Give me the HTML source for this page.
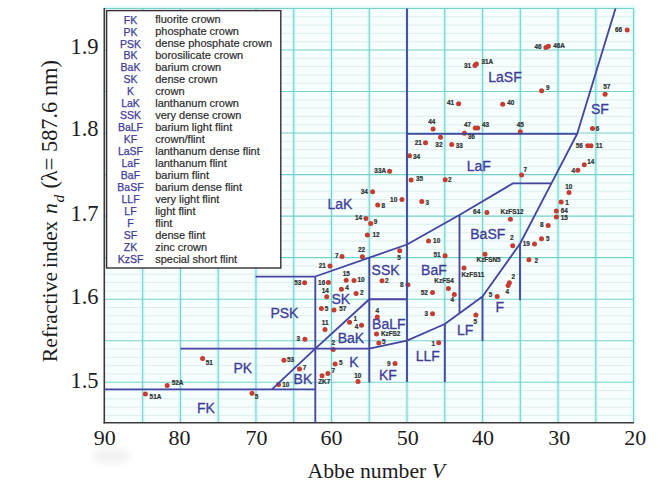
<!DOCTYPE html>
<html lang="en">
<head>
<meta charset="utf-8">
<title>Abbe diagram</title>
<style>
html,body{margin:0;padding:0;background:#fff;}
body{width:667px;height:490px;overflow:hidden;}
svg{display:block;}
</style>
</head>
<body>
<svg width="667" height="490" viewBox="0 0 667 490">
<rect x="0" y="0" width="667" height="490" fill="#ffffff"/>
<rect x="104.5" y="8.4" width="529.00" height="414.40" fill="#f7fefe"/>
<g stroke="#d9f9f7" stroke-width="3.8">
<line x1="142.66" x2="142.66" y1="8.4" y2="422.8"/>
<line x1="180.43" x2="180.43" y1="8.4" y2="422.8"/>
<line x1="218.19" x2="218.19" y1="8.4" y2="422.8"/>
<line x1="255.96" x2="255.96" y1="8.4" y2="422.8"/>
<line x1="293.72" x2="293.72" y1="8.4" y2="422.8"/>
<line x1="331.49" x2="331.49" y1="8.4" y2="422.8"/>
<line x1="369.25" x2="369.25" y1="8.4" y2="422.8"/>
<line x1="407.01" x2="407.01" y1="8.4" y2="422.8"/>
<line x1="444.78" x2="444.78" y1="8.4" y2="422.8"/>
<line x1="482.54" x2="482.54" y1="8.4" y2="422.8"/>
<line x1="520.31" x2="520.31" y1="8.4" y2="422.8"/>
<line x1="558.07" x2="558.07" y1="8.4" y2="422.8"/>
<line x1="595.84" x2="595.84" y1="8.4" y2="422.8"/>
<line x1="633.60" x2="633.60" y1="8.4" y2="422.8"/>
</g>
<g stroke="#d9edec" stroke-width="0.9">
<line x1="104.5" x2="633.5" y1="16.78" y2="16.78"/>
<line x1="104.5" x2="633.5" y1="25.08" y2="25.08"/>
<line x1="104.5" x2="633.5" y1="33.39" y2="33.39"/>
<line x1="104.5" x2="633.5" y1="41.69" y2="41.69"/>
<line x1="104.5" x2="633.5" y1="58.31" y2="58.31"/>
<line x1="104.5" x2="633.5" y1="66.61" y2="66.61"/>
<line x1="104.5" x2="633.5" y1="74.92" y2="74.92"/>
<line x1="104.5" x2="633.5" y1="83.22" y2="83.22"/>
<line x1="104.5" x2="633.5" y1="99.84" y2="99.84"/>
<line x1="104.5" x2="633.5" y1="108.14" y2="108.14"/>
<line x1="104.5" x2="633.5" y1="116.45" y2="116.45"/>
<line x1="104.5" x2="633.5" y1="124.75" y2="124.75"/>
<line x1="104.5" x2="633.5" y1="141.37" y2="141.37"/>
<line x1="104.5" x2="633.5" y1="149.67" y2="149.67"/>
<line x1="104.5" x2="633.5" y1="157.98" y2="157.98"/>
<line x1="104.5" x2="633.5" y1="166.28" y2="166.28"/>
<line x1="104.5" x2="633.5" y1="182.90" y2="182.90"/>
<line x1="104.5" x2="633.5" y1="191.20" y2="191.20"/>
<line x1="104.5" x2="633.5" y1="199.51" y2="199.51"/>
<line x1="104.5" x2="633.5" y1="207.81" y2="207.81"/>
<line x1="104.5" x2="633.5" y1="224.43" y2="224.43"/>
<line x1="104.5" x2="633.5" y1="232.73" y2="232.73"/>
<line x1="104.5" x2="633.5" y1="241.04" y2="241.04"/>
<line x1="104.5" x2="633.5" y1="249.34" y2="249.34"/>
<line x1="104.5" x2="633.5" y1="265.96" y2="265.96"/>
<line x1="104.5" x2="633.5" y1="274.26" y2="274.26"/>
<line x1="104.5" x2="633.5" y1="282.57" y2="282.57"/>
<line x1="104.5" x2="633.5" y1="290.87" y2="290.87"/>
<line x1="104.5" x2="633.5" y1="307.49" y2="307.49"/>
<line x1="104.5" x2="633.5" y1="315.79" y2="315.79"/>
<line x1="104.5" x2="633.5" y1="324.10" y2="324.10"/>
<line x1="104.5" x2="633.5" y1="332.40" y2="332.40"/>
<line x1="104.5" x2="633.5" y1="349.02" y2="349.02"/>
<line x1="104.5" x2="633.5" y1="357.32" y2="357.32"/>
<line x1="104.5" x2="633.5" y1="365.63" y2="365.63"/>
<line x1="104.5" x2="633.5" y1="373.93" y2="373.93"/>
<line x1="104.5" x2="633.5" y1="390.55" y2="390.55"/>
<line x1="104.5" x2="633.5" y1="398.85" y2="398.85"/>
<line x1="104.5" x2="633.5" y1="407.16" y2="407.16"/>
<line x1="104.5" x2="633.5" y1="415.46" y2="415.46"/>
</g>
<line x1="104.5" x2="635.5" y1="7.4" y2="7.4" stroke="#d2f8f6" stroke-width="3.4" stroke-opacity="0.65"/>
<g stroke="#76d0cb" stroke-width="1.1">
<line x1="104.5" x2="633.5" y1="8.47" y2="8.47"/>
<line x1="104.5" x2="633.5" y1="50.00" y2="50.00"/>
<line x1="104.5" x2="633.5" y1="91.53" y2="91.53"/>
<line x1="104.5" x2="633.5" y1="133.06" y2="133.06"/>
<line x1="104.5" x2="633.5" y1="174.59" y2="174.59"/>
<line x1="104.5" x2="633.5" y1="216.12" y2="216.12"/>
<line x1="104.5" x2="633.5" y1="257.65" y2="257.65"/>
<line x1="104.5" x2="633.5" y1="299.18" y2="299.18"/>
<line x1="104.5" x2="633.5" y1="340.71" y2="340.71"/>
<line x1="104.5" x2="633.5" y1="382.24" y2="382.24"/>
</g>
<g stroke="#74d2cd" stroke-width="1.05">
<line x1="142.66" x2="142.66" y1="8.4" y2="422.8"/>
<line x1="180.43" x2="180.43" y1="8.4" y2="422.8"/>
<line x1="218.19" x2="218.19" y1="8.4" y2="422.8"/>
<line x1="255.96" x2="255.96" y1="8.4" y2="422.8"/>
<line x1="293.72" x2="293.72" y1="8.4" y2="422.8"/>
<line x1="331.49" x2="331.49" y1="8.4" y2="422.8"/>
<line x1="369.25" x2="369.25" y1="8.4" y2="422.8"/>
<line x1="407.01" x2="407.01" y1="8.4" y2="422.8"/>
<line x1="444.78" x2="444.78" y1="8.4" y2="422.8"/>
<line x1="482.54" x2="482.54" y1="8.4" y2="422.8"/>
<line x1="520.31" x2="520.31" y1="8.4" y2="422.8"/>
<line x1="558.07" x2="558.07" y1="8.4" y2="422.8"/>
<line x1="595.84" x2="595.84" y1="8.4" y2="422.8"/>
<line x1="633.60" x2="633.60" y1="8.4" y2="422.8"/>
</g>
<line x1="104.3" x2="104.3" y1="8" y2="423.4" stroke="#3a3a3a" stroke-width="1.6"/>
<line x1="103.5" x2="634" y1="422.8" y2="422.8" stroke="#3a3a3a" stroke-width="1.5"/>
<rect x="106.6" y="10.6" width="174.2" height="257.4" fill="#ffffff" stroke="#303030" stroke-width="1.4"/>
<g font-family="'Liberation Sans', sans-serif">
<text x="130.5" y="23.5" text-anchor="middle" font-size="10.5" fill="#3e3c98" stroke="#3e3c98" stroke-width="0.25">FK</text>
<text x="155.2" y="23.0" font-size="11" fill="#2c2c2c" stroke="#2c2c2c" stroke-width="0.2">fluorite crown</text>
<text x="130.5" y="35.5" text-anchor="middle" font-size="10.5" fill="#3e3c98" stroke="#3e3c98" stroke-width="0.25">PK</text>
<text x="155.2" y="35.0" font-size="11" fill="#2c2c2c" stroke="#2c2c2c" stroke-width="0.2">phosphate crown</text>
<text x="130.5" y="47.5" text-anchor="middle" font-size="10.5" fill="#3e3c98" stroke="#3e3c98" stroke-width="0.25">PSK</text>
<text x="155.2" y="47.0" font-size="11" fill="#2c2c2c" stroke="#2c2c2c" stroke-width="0.2">dense phosphate crown</text>
<text x="130.5" y="59.4" text-anchor="middle" font-size="10.5" fill="#3e3c98" stroke="#3e3c98" stroke-width="0.25">BK</text>
<text x="155.2" y="58.9" font-size="11" fill="#2c2c2c" stroke="#2c2c2c" stroke-width="0.2">borosilicate crown</text>
<text x="130.5" y="71.4" text-anchor="middle" font-size="10.5" fill="#3e3c98" stroke="#3e3c98" stroke-width="0.25">BaK</text>
<text x="155.2" y="70.9" font-size="11" fill="#2c2c2c" stroke="#2c2c2c" stroke-width="0.2">barium crown</text>
<text x="130.5" y="83.4" text-anchor="middle" font-size="10.5" fill="#3e3c98" stroke="#3e3c98" stroke-width="0.25">SK</text>
<text x="155.2" y="82.9" font-size="11" fill="#2c2c2c" stroke="#2c2c2c" stroke-width="0.2">dense crown</text>
<text x="130.5" y="95.4" text-anchor="middle" font-size="10.5" fill="#3e3c98" stroke="#3e3c98" stroke-width="0.25">K</text>
<text x="155.2" y="94.9" font-size="11" fill="#2c2c2c" stroke="#2c2c2c" stroke-width="0.2">crown</text>
<text x="130.5" y="107.4" text-anchor="middle" font-size="10.5" fill="#3e3c98" stroke="#3e3c98" stroke-width="0.25">LaK</text>
<text x="155.2" y="106.9" font-size="11" fill="#2c2c2c" stroke="#2c2c2c" stroke-width="0.2">lanthanum crown</text>
<text x="130.5" y="119.3" text-anchor="middle" font-size="10.5" fill="#3e3c98" stroke="#3e3c98" stroke-width="0.25">SSK</text>
<text x="155.2" y="118.8" font-size="11" fill="#2c2c2c" stroke="#2c2c2c" stroke-width="0.2">very dense crown</text>
<text x="130.5" y="131.3" text-anchor="middle" font-size="10.5" fill="#3e3c98" stroke="#3e3c98" stroke-width="0.25">BaLF</text>
<text x="155.2" y="130.8" font-size="11" fill="#2c2c2c" stroke="#2c2c2c" stroke-width="0.2">barium light flint</text>
<text x="130.5" y="143.3" text-anchor="middle" font-size="10.5" fill="#3e3c98" stroke="#3e3c98" stroke-width="0.25">KF</text>
<text x="155.2" y="142.8" font-size="11" fill="#2c2c2c" stroke="#2c2c2c" stroke-width="0.2">crown/flint</text>
<text x="130.5" y="155.3" text-anchor="middle" font-size="10.5" fill="#3e3c98" stroke="#3e3c98" stroke-width="0.25">LaSF</text>
<text x="155.2" y="154.8" font-size="11" fill="#2c2c2c" stroke="#2c2c2c" stroke-width="0.2">lanthanum dense flint</text>
<text x="130.5" y="167.3" text-anchor="middle" font-size="10.5" fill="#3e3c98" stroke="#3e3c98" stroke-width="0.25">LaF</text>
<text x="155.2" y="166.8" font-size="11" fill="#2c2c2c" stroke="#2c2c2c" stroke-width="0.2">lanthanum flint</text>
<text x="130.5" y="179.2" text-anchor="middle" font-size="10.5" fill="#3e3c98" stroke="#3e3c98" stroke-width="0.25">BaF</text>
<text x="155.2" y="178.7" font-size="11" fill="#2c2c2c" stroke="#2c2c2c" stroke-width="0.2">barium flint</text>
<text x="130.5" y="191.2" text-anchor="middle" font-size="10.5" fill="#3e3c98" stroke="#3e3c98" stroke-width="0.25">BaSF</text>
<text x="155.2" y="190.7" font-size="11" fill="#2c2c2c" stroke="#2c2c2c" stroke-width="0.2">barium dense flint</text>
<text x="130.5" y="203.2" text-anchor="middle" font-size="10.5" fill="#3e3c98" stroke="#3e3c98" stroke-width="0.25">LLF</text>
<text x="155.2" y="202.7" font-size="11" fill="#2c2c2c" stroke="#2c2c2c" stroke-width="0.2">very light flint</text>
<text x="130.5" y="215.2" text-anchor="middle" font-size="10.5" fill="#3e3c98" stroke="#3e3c98" stroke-width="0.25">LF</text>
<text x="155.2" y="214.7" font-size="11" fill="#2c2c2c" stroke="#2c2c2c" stroke-width="0.2">light flint</text>
<text x="130.5" y="227.2" text-anchor="middle" font-size="10.5" fill="#3e3c98" stroke="#3e3c98" stroke-width="0.25">F</text>
<text x="155.2" y="226.7" font-size="11" fill="#2c2c2c" stroke="#2c2c2c" stroke-width="0.2">flint</text>
<text x="130.5" y="239.1" text-anchor="middle" font-size="10.5" fill="#3e3c98" stroke="#3e3c98" stroke-width="0.25">SF</text>
<text x="155.2" y="238.6" font-size="11" fill="#2c2c2c" stroke="#2c2c2c" stroke-width="0.2">dense flint</text>
<text x="130.5" y="251.1" text-anchor="middle" font-size="10.5" fill="#3e3c98" stroke="#3e3c98" stroke-width="0.25">ZK</text>
<text x="155.2" y="250.6" font-size="11" fill="#2c2c2c" stroke="#2c2c2c" stroke-width="0.2">zinc crown</text>
<text x="130.5" y="263.1" text-anchor="middle" font-size="10.5" fill="#3e3c98" stroke="#3e3c98" stroke-width="0.25">KzSF</text>
<text x="155.2" y="262.6" font-size="11" fill="#2c2c2c" stroke="#2c2c2c" stroke-width="0.2">special short flint</text>
</g>
<g font-family="'Liberation Sans', sans-serif" font-size="14" fill="#3e3c98" stroke="#3e3c98" stroke-width="0.3" text-anchor="middle">
<text x="505.0" y="82">LaSF</text>
<text x="599.9" y="114.4">SF</text>
<text x="478.8" y="170.6">LaF</text>
<text x="339.9" y="208.9">LaK</text>
<text x="487.8" y="239.2">BaSF</text>
<text x="385.6" y="274.5">SSK</text>
<text x="433.9" y="274.5">BaF</text>
<text x="340.8" y="304.4">SK</text>
<text x="284.4" y="317.8">PSK</text>
<text x="388.8" y="328.7">BaLF</text>
<text x="350.9" y="343.4">BaK</text>
<text x="499.7" y="311.8">F</text>
<text x="465.1" y="335.4">LF</text>
<text x="427.8" y="360.6">LLF</text>
<text x="353.9" y="367.3">K</text>
<text x="387.9" y="379.9">KF</text>
<text x="242.8" y="373">PK</text>
<text x="302.9" y="384.1">BK</text>
<text x="206.0" y="412.5">FK</text>
</g>
<g fill="#c53c30">
<circle cx="627.2" cy="30.1" r="2.5"/>
<circle cx="545.9" cy="47.5" r="2.5"/>
<circle cx="548.4" cy="46.3" r="2.5"/>
<circle cx="474.9" cy="65.4" r="2.5"/>
<circle cx="476.4" cy="63.9" r="2.5"/>
<circle cx="541.6" cy="90.8" r="2.5"/>
<circle cx="605.1" cy="94.2" r="2.5"/>
<circle cx="458.6" cy="103.7" r="2.5"/>
<circle cx="502.7" cy="104.2" r="2.5"/>
<circle cx="433.1" cy="129" r="2.5"/>
<circle cx="475.2" cy="127.9" r="2.5"/>
<circle cx="477.7" cy="127.9" r="2.5"/>
<circle cx="520.3" cy="131.7" r="2.5"/>
<circle cx="464.4" cy="133.2" r="2.5"/>
<circle cx="592.5" cy="128.5" r="2.5"/>
<circle cx="440.5" cy="137.2" r="2.5"/>
<circle cx="425.5" cy="142.8" r="2.5"/>
<circle cx="451.7" cy="144.5" r="2.5"/>
<circle cx="409.5" cy="155.8" r="2.5"/>
<circle cx="587.7" cy="145.7" r="2.5"/>
<circle cx="591" cy="145.7" r="2.5"/>
<circle cx="584.3" cy="164.7" r="2.5"/>
<circle cx="577.8" cy="170.3" r="2.5"/>
<circle cx="521.6" cy="175" r="2.5"/>
<circle cx="411.1" cy="180.1" r="2.5"/>
<circle cx="445.2" cy="179.7" r="2.5"/>
<circle cx="389.6" cy="171.2" r="2.5"/>
<circle cx="569" cy="192.6" r="2.5"/>
<circle cx="561.1" cy="201.9" r="2.5"/>
<circle cx="556.3" cy="211" r="2.5"/>
<circle cx="556.4" cy="216.9" r="2.5"/>
<circle cx="548.2" cy="225.5" r="2.5"/>
<circle cx="541.5" cy="238.7" r="2.5"/>
<circle cx="534.5" cy="244" r="2.5"/>
<circle cx="528.9" cy="259.7" r="2.5"/>
<circle cx="372.6" cy="191.8" r="2.5"/>
<circle cx="402" cy="199.4" r="2.5"/>
<circle cx="421.8" cy="201.6" r="2.5"/>
<circle cx="377.7" cy="205.1" r="2.5"/>
<circle cx="365.9" cy="218.5" r="2.5"/>
<circle cx="370.7" cy="223.6" r="2.5"/>
<circle cx="367.4" cy="234.9" r="2.5"/>
<circle cx="362.4" cy="256.7" r="2.5"/>
<circle cx="342" cy="256.4" r="2.5"/>
<circle cx="330" cy="265.9" r="2.5"/>
<circle cx="486.9" cy="212.5" r="2.5"/>
<circle cx="510.4" cy="219.2" r="2.5"/>
<circle cx="512.7" cy="245.7" r="2.5"/>
<circle cx="485" cy="254.3" r="2.5"/>
<circle cx="428.5" cy="241.1" r="2.5"/>
<circle cx="445.1" cy="255.8" r="2.5"/>
<circle cx="464" cy="268" r="2.5"/>
<circle cx="448.4" cy="288.6" r="2.5"/>
<circle cx="454.3" cy="294.5" r="2.5"/>
<circle cx="432.5" cy="292.4" r="2.5"/>
<circle cx="432.5" cy="313.8" r="2.5"/>
<circle cx="407.9" cy="284.8" r="2.5"/>
<circle cx="399.7" cy="250.8" r="2.5"/>
<circle cx="382" cy="280.8" r="2.5"/>
<circle cx="346.2" cy="280.2" r="2.5"/>
<circle cx="354" cy="280.4" r="2.5"/>
<circle cx="328.4" cy="282.5" r="2.5"/>
<circle cx="341.4" cy="289.2" r="2.5"/>
<circle cx="356.1" cy="293.4" r="2.5"/>
<circle cx="326.7" cy="296.8" r="2.5"/>
<circle cx="321.4" cy="308.6" r="2.5"/>
<circle cx="334" cy="310" r="2.5"/>
<circle cx="325" cy="329.5" r="2.5"/>
<circle cx="304.6" cy="282.7" r="2.5"/>
<circle cx="304.9" cy="339.2" r="2.5"/>
<circle cx="349.6" cy="322.3" r="2.5"/>
<circle cx="361.5" cy="325.3" r="2.5"/>
<circle cx="377.3" cy="317" r="2.5"/>
<circle cx="376.5" cy="334" r="2.5"/>
<circle cx="378.8" cy="343.1" r="2.5"/>
<circle cx="333.2" cy="349.4" r="2.5"/>
<circle cx="335.1" cy="364.1" r="2.5"/>
<circle cx="327.9" cy="373.6" r="2.5"/>
<circle cx="322" cy="375.7" r="2.5"/>
<circle cx="358" cy="381.6" r="2.5"/>
<circle cx="395" cy="363.5" r="2.5"/>
<circle cx="438.7" cy="342.7" r="2.5"/>
<circle cx="475.9" cy="315" r="2.5"/>
<circle cx="497.2" cy="296.6" r="2.5"/>
<circle cx="509.4" cy="282.8" r="2.5"/>
<circle cx="508.1" cy="285.6" r="2.5"/>
<circle cx="202.6" cy="358.5" r="2.5"/>
<circle cx="283.9" cy="360.2" r="2.5"/>
<circle cx="299.5" cy="369" r="2.5"/>
<circle cx="278.5" cy="384.4" r="2.5"/>
<circle cx="167.2" cy="385.6" r="2.5"/>
<circle cx="145.4" cy="393.9" r="2.5"/>
<circle cx="252" cy="393.2" r="2.5"/>
</g>
<g fill="none" stroke="#4545a2" stroke-width="1.85" stroke-linejoin="round">
<path d="M104.5,389.4 H315.3"/>
<path d="M180.5,348.6 H369.3"/>
<path d="M315.3,276.5 V422.5"/>
<path d="M255.6,276.6 H315.3"/>
<path d="M315.3,276.5 L407,244.5 L459.4,215 L512.9,183.4 H551.4"/>
<path d="M407,8.4 V382"/>
<path d="M407,133.8 H577.2"/>
<path d="M615.5,8.4 L577.2,133.8 L551.4,183.4 L520,243.8 L482.5,296.5 L444.8,324 L407,340.6 L369.3,348.6"/>
<path d="M369.3,257.6 V382.5"/>
<path d="M369.3,299.2 H407"/>
<path d="M271.9,389.4 L315.3,348.6 L369.3,299.2"/>
<path d="M459.5,215 V313"/>
<path d="M444.8,324 V382"/>
<path d="M482.5,296.5 V341"/>
<path d="M520,243.8 V300.3"/>
</g>
<g font-family="'Liberation Sans', sans-serif" font-size="6.4" font-weight="bold" fill="#2e3434" stroke="#2e3434" stroke-width="0.22">
<text x="622" y="32.25" text-anchor="end">66</text>
<text x="541.5" y="49.25" text-anchor="end">46</text>
<text x="553.2" y="47.85" text-anchor="start">46A</text>
<text x="471" y="67.65" text-anchor="end">31</text>
<text x="481.5" y="64.25" text-anchor="start">31A</text>
<text x="546" y="90.25" text-anchor="start">9</text>
<text x="606.8" y="89.05" text-anchor="middle">57</text>
<text x="454" y="105.25" text-anchor="end">41</text>
<text x="507.3" y="105.25" text-anchor="start">40</text>
<text x="431.8" y="124.25" text-anchor="middle">44</text>
<text x="471.1" y="127.25" text-anchor="end">47</text>
<text x="482" y="127.25" text-anchor="start">43</text>
<text x="520.3" y="126.85" text-anchor="middle">45</text>
<text x="467.7" y="139.25" text-anchor="start">36</text>
<text x="595.7" y="130.75" text-anchor="start">6</text>
<text x="438.9" y="146.75" text-anchor="middle">32</text>
<text x="421.8" y="144.95" text-anchor="end">21</text>
<text x="455.7" y="148.25" text-anchor="start">33</text>
<text x="413" y="158.75" text-anchor="start">34</text>
<text x="582.9" y="147.95" text-anchor="end">56</text>
<text x="595.7" y="147.95" text-anchor="start">11</text>
<text x="587.3" y="163.75" text-anchor="start">14</text>
<text x="575" y="172.55" text-anchor="end">4</text>
<text x="523.6" y="171.85" text-anchor="start">7</text>
<text x="416" y="180.75" text-anchor="start">35</text>
<text x="448.1" y="181.95" text-anchor="start">2</text>
<text x="386.1" y="173.45" text-anchor="end">33A</text>
<text x="568.8" y="189.45" text-anchor="middle">10</text>
<text x="565.2" y="205.25" text-anchor="start">1</text>
<text x="560.7" y="212.85" text-anchor="start">64</text>
<text x="560.8" y="219.55" text-anchor="start">15</text>
<text x="543.6" y="226.65" text-anchor="end">8</text>
<text x="546.1" y="241.35" text-anchor="start">5</text>
<text x="529.9" y="245.55" text-anchor="end">19</text>
<text x="534.5" y="263.45" text-anchor="start">2</text>
<text x="367.8" y="194.05" text-anchor="end">34</text>
<text x="397.2" y="201.65" text-anchor="end">10</text>
<text x="425.4" y="204.65" text-anchor="start">3</text>
<text x="381.4" y="207.95" text-anchor="start">8</text>
<text x="362.1" y="219.95" text-anchor="end">14</text>
<text x="373.7" y="224.35" text-anchor="start">9</text>
<text x="372.4" y="236.95" text-anchor="start">12</text>
<text x="361.6" y="251.55" text-anchor="middle">22</text>
<text x="338.5" y="257.85" text-anchor="end">7</text>
<text x="325.8" y="268.15" text-anchor="end">21</text>
<text x="480.2" y="213.75" text-anchor="end">64</text>
<text x="512.1" y="213.55" text-anchor="middle">KzFS12</text>
<text x="511.7" y="239.95" text-anchor="middle">2</text>
<text x="488.6" y="262.45" text-anchor="middle">KzFSN5</text>
<text x="433.1" y="243.25" text-anchor="start">10</text>
<text x="440.5" y="257.15" text-anchor="end">51</text>
<text x="461.5" y="277.15" text-anchor="start">KzFS11</text>
<text x="444.1" y="283.05" text-anchor="middle">KzFS4</text>
<text x="452.4" y="302.35" text-anchor="middle">4</text>
<text x="427.8" y="295.05" text-anchor="end">52</text>
<text x="428" y="316.05" text-anchor="end">3</text>
<text x="403.5" y="287.05" text-anchor="end">8</text>
<text x="399" y="259.85" text-anchor="middle">5</text>
<text x="385.1" y="282.65" text-anchor="start">2</text>
<text x="346.2" y="275.75" text-anchor="middle">15</text>
<text x="357.4" y="282.05" text-anchor="start">10</text>
<text x="325.2" y="284.75" text-anchor="end">16</text>
<text x="345.2" y="290.25" text-anchor="start">4</text>
<text x="359.9" y="294.65" text-anchor="start">2</text>
<text x="325.2" y="292.95" text-anchor="middle">14</text>
<text x="324.8" y="311.25" text-anchor="start">5</text>
<text x="339.3" y="311.25" text-anchor="start">57</text>
<text x="325.2" y="324.65" text-anchor="middle">11</text>
<text x="301.4" y="284.75" text-anchor="end">53</text>
<text x="300" y="341.15" text-anchor="end">3</text>
<text x="353.6" y="321.35" text-anchor="start">1</text>
<text x="358.3" y="329.05" text-anchor="end">4</text>
<text x="377.3" y="312.95" text-anchor="middle">4</text>
<text x="380.9" y="335.75" text-anchor="start">KzFS2</text>
<text x="382" y="343.95" text-anchor="start">5</text>
<text x="333.2" y="344.95" text-anchor="middle">2</text>
<text x="338.9" y="364.95" text-anchor="start">5</text>
<text x="331.5" y="373.35" text-anchor="start">7</text>
<text x="324.2" y="383.85" text-anchor="middle">ZK7</text>
<text x="357.8" y="377.95" text-anchor="middle">10</text>
<text x="390.6" y="365.75" text-anchor="end">9</text>
<text x="435" y="346.05" text-anchor="end">1</text>
<text x="475.3" y="323.95" text-anchor="middle">5</text>
<text x="490.5" y="297.35" text-anchor="middle">5</text>
<text x="513.3" y="278.75" text-anchor="middle">2</text>
<text x="507.3" y="293.65" text-anchor="middle">4</text>
<text x="205.7" y="365.35" text-anchor="start">51</text>
<text x="286.9" y="362.15" text-anchor="start">53</text>
<text x="302.7" y="370.15" text-anchor="start">7</text>
<text x="282.2" y="386.95" text-anchor="start">10</text>
<text x="171.7" y="384.85" text-anchor="start">52A</text>
<text x="149.6" y="398.55" text-anchor="start">51A</text>
<text x="254.7" y="399.35" text-anchor="start">5</text>
</g>
<defs><filter id="sm" x="-50%" y="-50%" width="200%" height="200%"><feGaussianBlur stdDeviation="3"/></filter></defs>
<ellipse cx="111" cy="456" rx="19" ry="8" fill="#f3f3f3" filter="url(#sm)"/>
<g font-family="'Liberation Serif', serif" font-size="22.5" fill="#1c1c1c">
<text x="84.5" y="54" text-anchor="middle">1.9</text>
<text x="84.5" y="136.3" text-anchor="middle">1.8</text>
<text x="84.5" y="221" text-anchor="middle">1.7</text>
<text x="84.5" y="304.3" text-anchor="middle">1.6</text>
<text x="84.5" y="388" text-anchor="middle">1.5</text>
</g>
<g font-family="'Liberation Serif', serif" font-size="22" fill="#1c1c1c">
<text x="104.7" y="445.2" text-anchor="middle">90</text>
<text x="179.6" y="445.2" text-anchor="middle">80</text>
<text x="256.6" y="445.2" text-anchor="middle">70</text>
<text x="331.6" y="445.2" text-anchor="middle">60</text>
<text x="407.7" y="445.2" text-anchor="middle">50</text>
<text x="483" y="445.2" text-anchor="middle">40</text>
<text x="559.2" y="445.2" text-anchor="middle">30</text>
<text x="635.2" y="445.2" text-anchor="middle">20</text>
</g>
<g font-family="'Liberation Serif', serif" fill="#1c1c1c">
<text x="307.6" y="478" font-size="21.7">Abbe number <tspan font-style="italic">V</tspan></text>
<g transform="translate(57.2,362.2) rotate(-90)">
<text x="0" y="0" font-size="21.7">Refractive</text>
<text x="94.3" y="0" font-size="21.2">index</text>
<text x="148.3" y="0" font-size="21.7" font-style="italic">n</text>
<text x="159.6" y="6.5" font-size="15.5" font-style="italic">d</text>
<text x="173.6" y="0" font-size="22.4">(λ= 587.6 nm)</text>
</g>
</g>
</svg>
</body>
</html>
